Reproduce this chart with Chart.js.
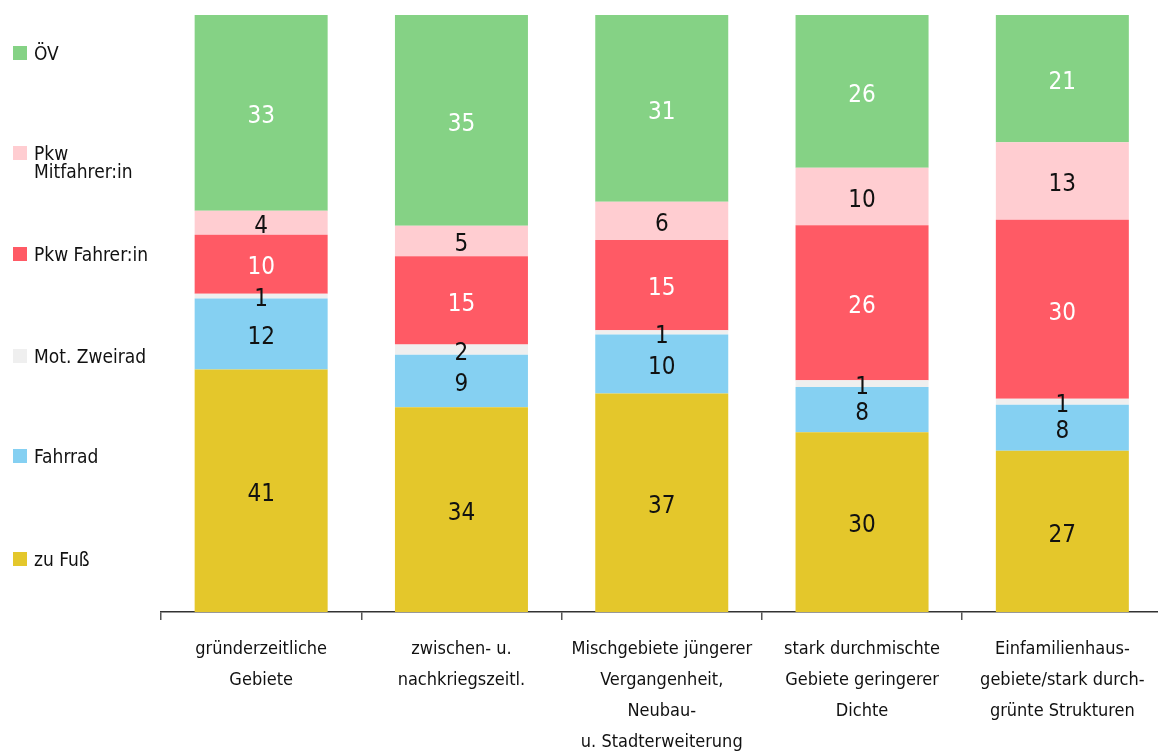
<!DOCTYPE html>
<html>
<head>
<meta charset="utf-8">
<script src="https://cdn.jsdelivr.net/npm/chart.js@4.4.1/dist/chart.umd.min.js"></script>
<style>
  html, body { margin: 0; padding: 0; background: #fff; }
  body { width: 1158px; height: 752px; overflow: hidden; position: relative;
         font-family: "Liberation Sans Narrow", "DejaVu Sans Condensed", sans-serif; color: #111; }
  #wrap { position: absolute; left: 0; top: 0; width: 1164px; height: 752px; }
  .lg { position: absolute; left: 13px; font-size: 19px; line-height: 18px; }
  .lg i { position: absolute; left: 0; top: 0; width: 14px; height: 14px; }
  .lg span { position: absolute; left: 21px; top: -2px; white-space: nowrap; }
</style>
</head>
<body>
<div id="wrap"><canvas id="c"></canvas></div>
<script>
// categories (one per bar)
const categories = [
  ["gründerzeitliche", "Gebiete"],
  ["zwischen- u.", "nachkriegszeitl."],
  ["Mischgebiete jüngerer", "Vergangenheit,", "Neubau-", "u. Stadterweiterung"],
  ["stark durchmischte", "Gebiete geringerer", "Dichte"],
  ["Einfamilienhaus-", "gebiete/stark durch-", "grünte Strukturen"],
];

// shares in percent, bottom to top (labels show them rounded)
const zuFuss       = [40.6, 34.3, 36.6, 30.1, 27.0];
const fahrrad      = [11.9, 8.8, 9.9, 7.6, 7.7];
const motZweirad   = [0.8, 1.7, 0.7, 1.1, 1.0];
const pkwFahrer    = [9.9, 14.8, 15.1, 26.0, 30.0];
const pkwMitfahrer = [4.0, 5.1, 6.4, 9.6, 13.0];
const oev          = [32.8, 35.3, 31.3, 25.6, 21.3];

const FONT = '"Liberation Sans Narrow", "DejaVu Sans Condensed", sans-serif';

const series = [
  { label: "zu Fuß", data: zuFuss, color: "#e4c72b", text: "#111", legendY: 552 },
  { label: "Fahrrad", data: fahrrad, color: "#85d0f2", text: "#111", legendY: 449 },
  { label: "Mot. Zweirad", data: motZweirad, color: "#efefef", text: "#111", legendY: 349 },
  { label: "Pkw Fahrer:in", data: pkwFahrer, color: "#ff5a65", text: "#fff", legendY: 247 },
  { label: "Pkw\nMitfahrer:in", data: pkwMitfahrer, color: "#ffcdd1", text: "#111", legendY: 146 },
  { label: "ÖV", data: oev, color: "#85d285", text: "#fff", legendY: 46 },
];

// left-hand legend
for (const s of series) {
  const d = document.createElement("div");
  d.className = "lg";
  d.style.top = s.legendY + "px";
  const sw = document.createElement("i");
  sw.style.background = s.color;
  const t = document.createElement("span");
  t.innerHTML = s.label.replace("\n", "<br>");
  d.appendChild(sw);
  d.appendChild(t);
  document.body.appendChild(d);
}

const valueLabels = {
  id: "valueLabels",
  afterDatasetsDraw(chart) {
    const ctx = chart.ctx;
    ctx.save();
    ctx.font = `24px ${FONT}`;
    ctx.textAlign = "center";
    ctx.textBaseline = "middle";
    chart.data.datasets.forEach((ds, i) => {
      const meta = chart.getDatasetMeta(i);
      meta.data.forEach((bar, j) => {
        ctx.fillStyle = series[i].text;
        ctx.fillText(String(Math.round(ds.data[j])), bar.x, (bar.y + bar.base) / 2 + 4);
      });
    });
    ctx.restore();
  },
};

new Chart(document.getElementById("c"), {
  type: "bar",
  data: {
    labels: categories,
    datasets: series.map((s) => ({
      label: s.label,
      data: s.data,
      backgroundColor: s.color,
      borderWidth: 0,
      barPercentage: 0.664,
      categoryPercentage: 1,
    })),
  },
  options: {
    responsive: true,
    maintainAspectRatio: false,
    animation: false,
    layout: { padding: { left: 161, right: 1.5, top: 15, bottom: 0 } },
    plugins: { legend: { display: false }, tooltip: { enabled: false } },
    scales: {
      x: {
        stacked: true,
        afterFit(scale) { scale.height = 140; },
        border: { display: true, color: "#333", width: 1.5 },
        grid: { offset: true, drawOnChartArea: false, drawTicks: true, tickLength: 8, color: "#555", lineWidth: 1.5 },
        ticks: { color: "#111", padding: 14, font: { family: FONT, size: 18, lineHeight: 1.72 } },
      },
      y: {
        stacked: true,
        display: false,
        min: 0,
        max: 100,
      },
    },
  },
  plugins: [valueLabels],
});
</script>
</body>
</html>
